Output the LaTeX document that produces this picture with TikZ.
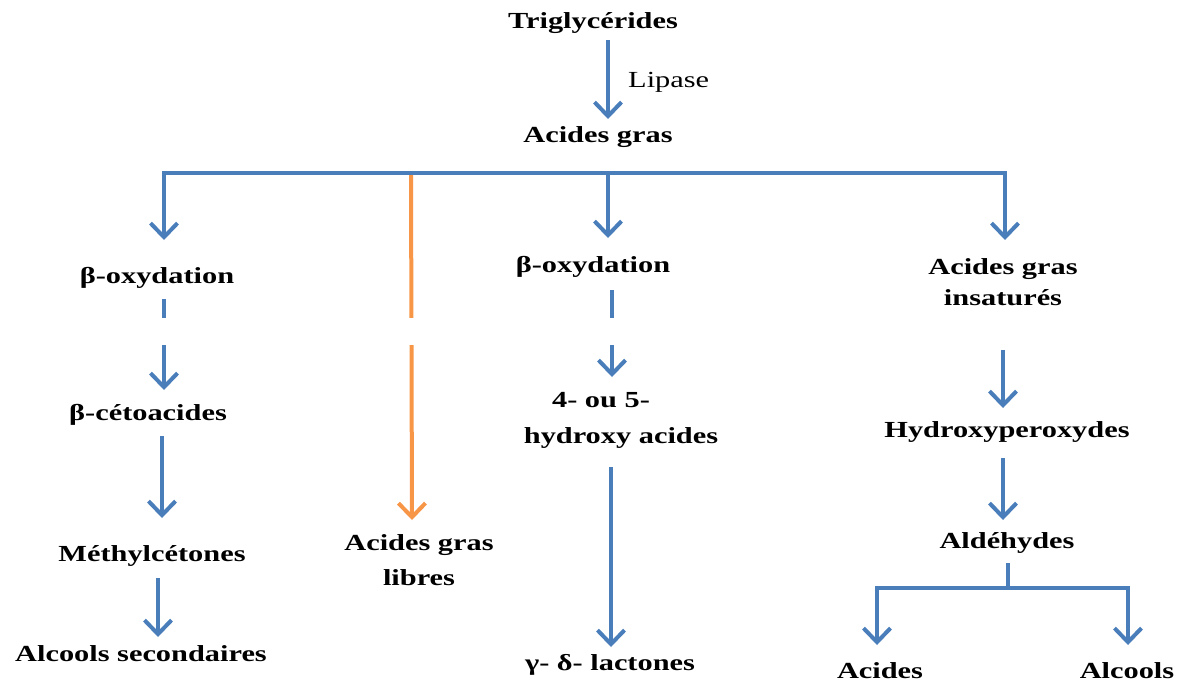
\documentclass[tikz,border=0pt]{standalone}
\usepackage{fontspec}
\setmainfont{Liberation Serif}[FakeStretch=1.32]
\usetikzlibrary{arrows.meta,calc}
\definecolor{lblue}{HTML}{4A7EBB}
\definecolor{lorange}{HTML}{F79646}
\begin{document}
\begin{tikzpicture}[x=1pt,y=-1pt,
  lbl/.style={font=\fontsize{23}{31}\selectfont\bfseries, inner sep=0pt, anchor=base, align=center},
  reg/.style={font=\fontsize{23}{31}\selectfont, inner sep=0pt, anchor=base west},
  ln/.style={draw=lblue, line width=4pt},
  arr/.style={ln, -{Straight Barb[length=14pt,width=27pt]}},
  oarr/.style={draw=lorange, line width=4pt, -{Straight Barb[length=14pt,width=27pt]}}]
\useasboundingbox (0,0) rectangle (1184,681);
% nodes
\node[lbl] (trig) at (593,28) {Triglycérides};
\node[reg] (lip) at (628,87) {Lipase};
\node[lbl] (ag) at (598,142) {Acides gras};
\node[lbl] (bL) at (157,283) {β-oxydation};
\node[lbl] (bM) at (593,272) {β-oxydation};
\node[lbl] (agi) at (1003,305) {Acides gras\\insaturés};
\node[lbl] (bc) at (148,420) {β-cétoacides};
\node[lbl] (meth) at (152,561) {Méthylcétones};
\node[lbl] (alc) at (141,661) {Alcools secondaires};
\node[lbl, font=\fontsize{23}{35}\selectfont\bfseries] (agl) at (419,585) {Acides gras\\libres};
\node[lbl, font=\fontsize{23}{36}\selectfont\bfseries] (h45) at (621,443) {4- ou 5-\hspace*{40pt}\\hydroxy acides};
\node[lbl] (lac) at (610,670) {γ- δ- lactones};
\node[lbl] (hyd) at (1007,437) {Hydroxyperoxydes};
\node[lbl] (ald) at (1007,548) {Aldéhydes};
\node[lbl] (aci) at (880,678) {Acides};
\node[lbl] (alco) at (1127,678) {Alcools};
% branch points
\coordinate (bl) at (164,173);
\coordinate (bo) at (411,173);
\coordinate (bm) at (608,173);
\coordinate (br) at (1005,173);
\coordinate (split) at (1008,588);
\coordinate (ca) at (877,588);
\coordinate (cb) at (1128,588);
% connectors
\draw[arr] ($(trig.base)+(15,12)$) -- ($(ag.base)+(10,-23)$);
\draw[oarr] (bo) -- ($(agl.base)+(-7,-65)$);
\draw[ln, line cap=rect] (bl) -- (br);
\draw[arr] (bl) -- ($(bL.base)+(7,-43)$);
\draw[arr] (bm) -- ($(bM.base)+(15,-34)$);
\draw[arr] (br) -- ($(agi.base)+(2,-65)$);
\draw[arr] ($(bL.base)+(7,16)$) -- ($(bc.base)+(16,-30)$);
\draw[arr] ($(bc.base)+(14,16)$) -- ($(meth.base)+(10,-43)$);
\draw[arr] ($(meth.base)+(6,17)$) -- ($(alc.base)+(17,-24)$);
\draw[arr] ($(bM.base)+(19,18)$) -- ($(h45.base)+(-9,-66)$);
\draw[arr] ($(h45.base)+(-10,24)$) -- ($(lac.base)+(1,-23)$);
\draw[arr] ($(agi.base)+(0,45)$) -- ($(hyd.base)+(-4,-29)$);
\draw[arr] ($(hyd.base)+(-4,21)$) -- ($(ald.base)+(-4,-28)$);
\draw[ln] ($(ald.base)+(1,15)$) -- (split);
\draw[ln, line cap=rect] (ca) -- (cb);
\draw[arr] (ca) -- ($(aci.base)+(-3,-33)$);
\draw[arr] (cb) -- ($(alco.base)+(1,-33)$);
% cropped blank band
\fill[white] (0,318) rectangle (1184,345);
\end{tikzpicture}
\end{document}
